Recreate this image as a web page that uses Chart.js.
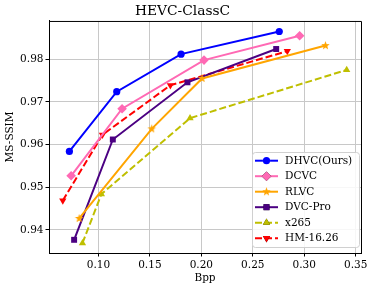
<!DOCTYPE html>
<html>
<head>
<meta charset="utf-8">
<script src="https://cdn.jsdelivr.net/npm/chart.js@4"></script>
<style>
  html, body { margin: 0; padding: 0; background: #fff; }
  #wrap { width: 374px; height: 290px; }
</style>
</head>
<body>
<div id="wrap"><canvas id="rdChart" width="374" height="290"></canvas></div>
<script>
// values
const seriesNames = ['DHVC(Ours)', 'DCVC', 'RLVC', 'DVC-Pro', 'x265', 'HM-16.26'];
const dhvcBpp  = [0.0718, 0.1178, 0.1803, 0.2757];
const dhvcSsim = [0.9584, 0.9724, 0.9812, 0.9865];
const dcvcBpp  = [0.0735, 0.1230, 0.2026, 0.2955];
const dcvcSsim = [0.9527, 0.9684, 0.9798, 0.9855];
const rlvcBpp  = [0.0813, 0.1518, 0.2007, 0.3206];
const rlvcSsim = [0.9427, 0.9637, 0.9755, 0.9832];
const dvcpBpp  = [0.0764, 0.1140, 0.1865, 0.2727];
const dvcpSsim = [0.9377, 0.9612, 0.9746, 0.9824];
const x265Bpp  = [0.0845, 0.1029, 0.1890, 0.3412];
const x265Ssim = [0.9369, 0.9484, 0.9662, 0.9775];
const hmBpp    = [0.0654, 0.1039, 0.1699, 0.2835];
const hmSsim   = [0.9469, 0.9623, 0.9739, 0.9819];

const xTicks = [0.10, 0.15, 0.20, 0.25, 0.30, 0.35];
const yTicks = [0.94, 0.95, 0.96, 0.97, 0.98];

const FONT = "'DejaVu Serif', serif";

function pts(xs, ys) {
  return xs.map((x, i) => ({ x: x, y: ys[i] }));
}

// filled star like matplotlib '*'
function starCanvas(color, r) {
  const c = document.createElement('canvas');
  const s = Math.ceil(r * 2 + 2);
  c.width = s; c.height = s;
  const g = c.getContext('2d');
  g.fillStyle = color;
  g.beginPath();
  for (let i = 0; i < 10; i++) {
    const rr = i % 2 === 0 ? r : r * 0.42;
    const a = -Math.PI / 2 + i * Math.PI / 5;
    const px = s / 2 + rr * Math.cos(a);
    const py = s / 2 + rr * Math.sin(a);
    if (i === 0) g.moveTo(px, py); else g.lineTo(px, py);
  }
  g.closePath();
  g.fill();
  return c;
}

function ds(label, data, color, style, radius, dashed, rot) {
  return {
    label: label,
    data: data,
    borderColor: color,
    backgroundColor: color,
    pointBackgroundColor: color,
    pointBorderColor: color,
    borderWidth: 2,
    borderDash: dashed ? [7, 3] : [],
    pointStyle: style,
    pointRadius: radius,
    pointRotation: rot || 0,
    pointBorderWidth: 0,
    tension: 0,
    fill: false
  };
}

const datasets = [
  ds(seriesNames[0], pts(dhvcBpp, dhvcSsim), '#0000ff', 'circle', 3.6),
  ds(seriesNames[1], pts(dcvcBpp, dcvcSsim), '#ff69b4', 'rectRot', 4.8),
  ds(seriesNames[2], pts(rlvcBpp, rlvcSsim), '#ffa500', starCanvas('#ffa500', 4.5), 4.5),
  ds(seriesNames[3], pts(dvcpBpp, dvcpSsim), '#4b0082', 'rect', 4.2),
  ds(seriesNames[4], pts(x265Bpp, x265Ssim), '#bfbf00', 'triangle', 4.2, true),
  ds(seriesNames[5], pts(hmBpp, hmSsim), '#ff0000', 'triangle', 4.2, true, 180)
];

// top and right spines of the axes box
const boxFrame = {
  id: 'boxFrame',
  afterDatasetsDraw(chart) {
    const a = chart.chartArea;
    const c = chart.ctx;
    c.save();
    c.strokeStyle = '#000';
    c.lineWidth = 1;
    c.beginPath();
    c.moveTo(a.left, a.top + 0.5);
    c.lineTo(a.right + 0.5, a.top + 0.5);
    c.lineTo(a.right + 0.5, a.bottom);
    c.stroke();
    c.restore();
  }
};

// legend drawn inside the plot, lower right, like matplotlib
const insideLegend = {
  id: 'insideLegend',
  afterDraw(chart) {
    const c = chart.ctx;
    const x0 = 252.5, y0 = 152.5, w = 107, h = 95;
    c.save();
    c.fillStyle = 'rgba(255,255,255,0.85)';
    c.strokeStyle = '#d0d0d0';
    c.lineWidth = 1;
    c.beginPath();
    c.roundRect(x0, y0, w, h, 3);
    c.fill();
    c.stroke();
    c.font = '10.5px ' + FONT;
    c.textBaseline = 'middle';
    c.textAlign = 'left';
    chart.data.datasets.forEach((d, i) => {
      const y = 160.7 + i * 15.5;
      c.strokeStyle = d.borderColor;
      c.lineWidth = 2;
      c.setLineDash(d.borderDash);
      c.beginPath();
      c.moveTo(255, y);
      c.lineTo(278, y);
      c.stroke();
      c.setLineDash([]);
      Chart.helpers.drawPoint(c, {
        pointStyle: d.pointStyle,
        rotation: d.pointRotation,
        radius: d.pointRadius,
        borderWidth: 0
      }, 266.5, y);
      c.fillStyle = d.borderColor;
      c.fill();
      c.fillStyle = '#000';
      c.fillText(d.label, 285, y + 0.5);
    });
    c.restore();
  }
};

new Chart(document.getElementById('rdChart').getContext('2d'), {
  type: 'line',
  data: { datasets: datasets },
  options: {
    responsive: false,
    animation: false,
    layout: { padding: { left: 4, right: 13, top: 0, bottom: 5 } },
    plugins: {
      legend: { display: false },
      tooltip: { enabled: false },
      title: {
        display: true,
        text: 'HEVC-ClassC',
        color: '#000',
        font: { family: FONT, size: 13.8, weight: 'normal', lineHeight: 1.2 },
        padding: { top: 3.4, bottom: 1 }
      }
    },
    scales: {
      x: {
        type: 'linear',
        min: 0.052,
        max: 0.3551,
        afterBuildTicks: s => { s.ticks = xTicks.map(v => ({ value: v })); },
        afterFit: s => { s.height = 32; },
        border: { color: '#000', width: 1 },
        grid: { color: '#c8c8c8', lineWidth: 1, tickColor: '#000', tickLength: 3.5 },
        ticks: {
          color: '#000',
          padding: 2,
          maxRotation: 0,
          font: { family: FONT, size: 10.5 },
          callback: v => v.toFixed(2)
        },
        title: {
          display: true,
          text: 'Bpp',
          color: '#000',
          font: { family: FONT, size: 10.5 },
          padding: { top: 0, bottom: 0 }
        }
      },
      y: {
        min: 0.93461,
        max: 0.98897,
        afterBuildTicks: s => { s.ticks = yTicks.map(v => ({ value: v })); },
        afterFit: s => { s.width = 45; },
        border: { color: '#000', width: 1 },
        grid: { color: '#c8c8c8', lineWidth: 1, tickColor: '#000', tickLength: 3.5 },
        ticks: {
          color: '#000',
          padding: 2,
          font: { family: FONT, size: 10.5 },
          callback: v => v.toFixed(2)
        },
        title: {
          display: true,
          text: 'MS-SSIM',
          color: '#000',
          font: { family: FONT, size: 10.5 },
          padding: { top: 0, bottom: 2 }
        }
      }
    }
  },
  plugins: [boxFrame, insideLegend]
});
</script>
</body>
</html>
